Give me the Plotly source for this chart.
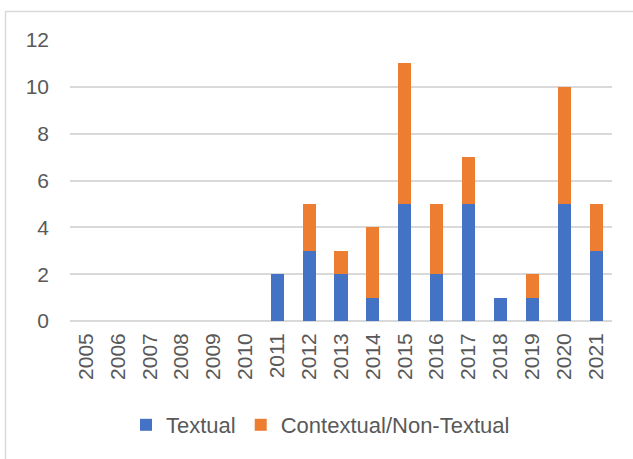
import plotly.graph_objects as go

years = [str(y) for y in range(2005, 2022)]
textual = [0, 0, 0, 0, 0, 0, 2, 3, 2, 1, 5, 2, 5, 1, 1, 5, 3]
contextual = [0, 0, 0, 0, 0, 0, 0, 2, 1, 3, 6, 3, 2, 0, 1, 5, 2]
series_names = ["Textual", "Contextual/Non-Textual"]
colors = ["#4472C4", "#ED7D31"]
y_ticks = [0, 2, 4, 6, 8, 10, 12]

W, H = 633, 459
L, R, T, B = 70, 21, 40, 138
pw, ph = W - L - R, H - T - B

fig = go.Figure()
for name, vals, col in zip(series_names, [textual, contextual], colors):
    fig.add_trace(go.Bar(x=years, y=vals, name=name, marker=dict(color=col, line=dict(width=0))))

font = dict(family="Liberation Sans, Arial, sans-serif", size=21, color="#595959")
lfont = dict(family="Liberation Sans, Arial, sans-serif", size=22, color="#595959")

fig.update_layout(
    width=W, height=H,
    barmode="stack", bargap=0.59,
    margin=dict(l=L, r=R, t=T, b=B, pad=0),
    paper_bgcolor="white", plot_bgcolor="white",
    font=font,
    showlegend=True,
    legend=dict(orientation="h", x=(126 - L) / pw, xanchor="left",
                y=(T + ph - 425) / ph, yanchor="middle",
                font=lfont, itemwidth=30, traceorder="normal",
                bgcolor="rgba(0,0,0,0)"),
    xaxis=dict(type="category", tickangle=-90, showgrid=False, showline=False,
               ticks="", ticklabelstandoff=7, tickfont=font),
    yaxis=dict(range=[0, 12], tickvals=y_ticks, showgrid=True, gridcolor="#D9D9D9",
               gridwidth=1.5, zeroline=True, zerolinecolor="#D9D9D9", zerolinewidth=1.5,
               showline=False, ticks="", ticklabelstandoff=20, tickfont=font),
    shapes=[dict(type="rect", xref="paper", yref="paper",
                 x0=(5.5 - L) / pw, x1=(W + 20 - L) / pw,
                 y0=(T + ph - (H + 20)) / ph, y1=(T + ph - 11.5) / ph,
                 line=dict(color="#D9D9D9", width=1.5), fillcolor="rgba(0,0,0,0)", layer="below")],
)

fig.write_html("out.html", config={"displayModeBar": False},
               post_script="document.body.style.margin='0';")
